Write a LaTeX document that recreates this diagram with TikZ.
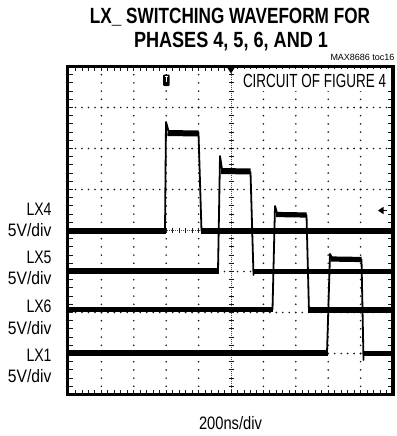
\documentclass[tikz,border=0pt]{standalone}
\usepackage{fontspec}
\setmainfont{Liberation Sans}
\usepackage{graphicx}
\newcommand\fitw[2]{\resizebox{#1}{\height}{#2}}
\begin{document}
\begin{tikzpicture}[x=1pt,y=-1pt,
  txt/.style={inner sep=0pt, outer sep=0pt},
  ttl/.style={txt, font=\bfseries\fontsize{22}{24}\selectfont},
  lbl/.style={txt, font=\fontsize{18}{20}\selectfont},
  gdot/.style={fill=black!90},
  tick/.style={line width=0.9pt, black!90},
  edge/.style={line width=1.8pt, line join=round, line cap=round},
  lvl/.style={line width=5.2pt, line cap=butt}]
\useasboundingbox[fill=white] (0,0) rectangle (396,436);

% title and notes
\node[ttl, anchor=base] (t1) at (230,24) {\fitw{280pt}{LX\_ SWITCHING WAVEFORM FOR}};
\node[ttl, anchor=base] (t2) at (231,48) {\fitw{194pt}{PHASES 4, 5, 6, AND 1}};
\node[txt, anchor=base east, font=\fontsize{9}{10}\selectfont] (toc) at (394.5,60.5) {\fitw{64pt}{MAX8686 toc16}};

% grid dots
\foreach \i in {1,2,3,5,6,7} {
  \foreach \k in {1,...,49} { \fill[gdot] (69+\k*6.48, 66.5+\i*41) circle (0.9); }
}
\foreach \j in {1,2,3,4,6,7,8,9} {
  \foreach \k in {1,...,39} { \fill[gdot] (69+\j*32.4, 66.5+\k*8.2) circle (0.9); }
}
% centre axes
\draw[line width=0.4pt, black!70, dash pattern=on 1pt off 1pt] (69,230.5) -- (393,230.5);
\draw[line width=0.4pt, black!70, dash pattern=on 1pt off 1pt] (231,66.5) -- (231,394.5);
\foreach \k in {1,...,49} { \draw[tick] (69+\k*6.48,228) -- ++(0,5); }
\foreach \k in {1,...,39} { \draw[tick] (228.5,66.5+\k*8.2) -- ++(5,0); }
% edge ticks
\foreach \k in {1,...,49} {
  \draw[tick] (69+\k*6.48,66.5) -- ++(0,4.5);
  \draw[tick] (69+\k*6.48,394.5) -- ++(0,-4.5);
}
\foreach \k in {1,...,39} {
  \draw[tick] (67.5,66.5+\k*8.2) -- ++(5,0);
  \draw[tick] (393,66.5+\k*8.2) -- ++(-5,0);
}

% label box inside screen
\fill[white] (236,69) rectangle (390.5,90.5);
\node[lbl, anchor=base west, font=\fontsize{19}{21}\selectfont] (circ) at (243,88) {\fitw{143pt}{CIRCUIT OF FIGURE 4}};

% markers
\fill (227.5,68) -- (234.5,68) -- (231,73.5) -- cycle;
\fill[rounded corners=1pt] (163,74.5) rectangle (169.5,86);
\draw[white, line width=0.9pt] (164.6,76.5) -- (167.9,76.5) (166.25,76.5) -- (166.25,82);
\fill (378,210.5) -- (383.5,206.8) -- (383.5,214.2) -- cycle;
\draw[line width=1pt] (383,210.5) -- (386.5,210.5);

% LX4 trace
\draw[edge] (165,231) -- (166,122) -- (168.5,131);
\draw[edge] (198.5,133) -- (201.5,231);
\draw[lvl] (68.5,231) -- (165.8,231);
\draw[lvl, line width=6pt] (167.5,133) -- (198.5,133.5);
\draw[lvl] (200.8,231) -- (393,231);
% LX5 trace
\draw[edge] (218,271) -- (220,156) -- (222,169);
\draw[edge] (250.5,172) -- (253.5,275);
\draw[lvl] (68.5,271) -- (218.7,271);
\draw[lvl, line width=6pt] (221,171) -- (250.5,171.5);
\draw[lvl] (252.8,271.5) -- (393,271.5);
% LX6 trace
\draw[edge] (272.5,309.5) -- (275,206) -- (277,213);
\draw[edge] (306.5,215) -- (309,312);
\draw[lvl] (68.5,309.5) -- (273.2,309.5);
\draw[lvl] (276,214.5) -- (306.5,215);
\draw[lvl] (308.3,310) -- (393,310);
% LX1 trace
\draw[edge] (327,353) -- (330,254) -- (332,258);
\draw[edge] (361.5,259.5) -- (363.5,360);
\draw[lvl] (68.5,353) -- (327.7,353);
\draw[lvl] (330.5,259) -- (361.5,259.5);
\draw[lvl] (362.8,353.5) -- (393,353.5);

% frame
\draw[line width=3.8pt] (67.5,66.5) rectangle (393,394.5);

% channel labels
\node[lbl, anchor=base east] (l4) at (51.5,215) {\fitw{25pt}{LX4}};
\node[lbl, anchor=base east] (s4) at (51.5,236) {\fitw{43.5pt}{5V/div}};
\node[lbl, anchor=base east] (l5) at (51.5,263.3) {\fitw{25pt}{LX5}};
\node[lbl, anchor=base east] (s5) at (51.5,284) {\fitw{43.5pt}{5V/div}};
\node[lbl, anchor=base east] (l6) at (51.5,312.7) {\fitw{25pt}{LX6}};
\node[lbl, anchor=base east] (s6) at (51.5,334) {\fitw{43.5pt}{5V/div}};
\node[lbl, anchor=base east] (l1) at (51.5,361.7) {\fitw{25pt}{LX1}};
\node[lbl, anchor=base east] (s1) at (51.5,382.7) {\fitw{43.5pt}{5V/div}};
\node[lbl, anchor=base west] (tb) at (199,429) {\fitw{63pt}{200ns/div}};
\end{tikzpicture}
\end{document}
